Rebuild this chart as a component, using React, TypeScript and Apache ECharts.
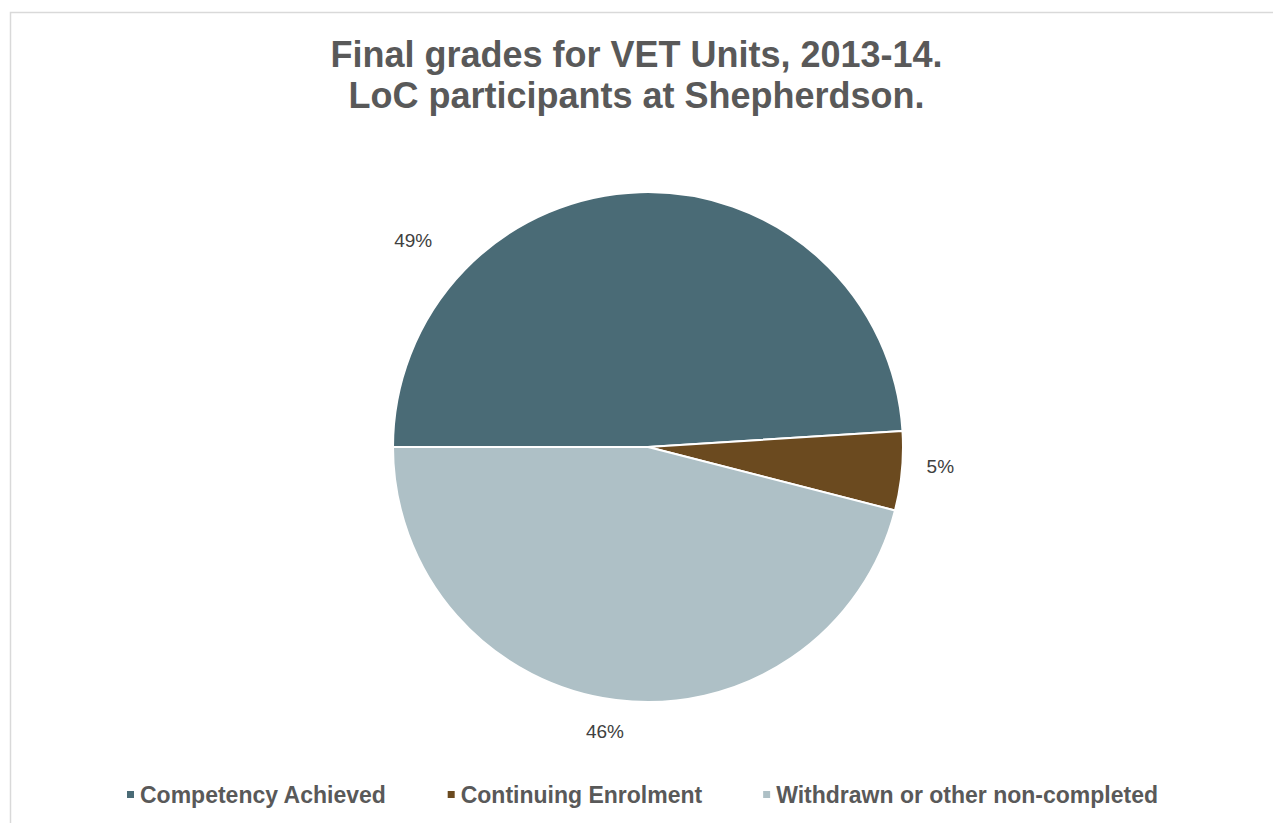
import React, { useEffect, useRef } from "react";
import * as echarts from "echarts";

// Final grade outcomes (percent of VET units)
const categories = ["Competency Achieved", "Continuing Enrolment", "Withdrawn or other non-completed"];
const shares = [49, 5, 46];
const colors = ["#4A6B76", "#6B4A1F", "#AEC0C6"];

const titleLines = ["Final grades for VET Units, 2013-14.", "LoC participants at Shepherdson."];

// Label placement around the pie, as [angle in degrees (counter-clockwise from east), distance from centre]
const labelPolar: [number, number][] = [
  [138.6, 313],
  [-3.9, 293],
  [-98.6, 288],
];

const CX = 648;
const CY = 447;
const R = 255;
const FONT = "Liberation Sans, Arial, sans-serif";

export default function App() {
  const ref = useRef<HTMLDivElement>(null);

  useEffect(() => {
    if (!ref.current) return;
    const chart = echarts.init(ref.current, null, { renderer: "svg" });
    chart.setOption({
      animation: false,
      backgroundColor: "#ffffff",
      textStyle: { fontFamily: FONT },
      title: {
        text: titleLines.join("\n"),
        left: "center",
        top: 29,
        textStyle: {
          fontFamily: FONT,
          fontSize: 36,
          fontWeight: "bold",
          color: "#595959",
          lineHeight: 41,
        },
      },
      graphic: [
        {
          type: "rect",
          shape: { x: 10.5, y: 12.5, width: 1400, height: 1000 },
          style: { fill: "none", stroke: "#d9d9d9", lineWidth: 1.5 },
          silent: true,
        },
      ],
      legend: {
        bottom: 12,
        left: 120,
        icon: "rect",
        itemWidth: 9,
        itemHeight: 9,
        itemGap: 59,
        data: categories,
        textStyle: {
          fontFamily: FONT,
          fontSize: 23,
          fontWeight: "bold",
          color: "#595959",
        },
      },
      series: [
        {
          type: "pie",
          center: [CX, CY],
          radius: R,
          startAngle: 180,
          clockwise: true,
          avoidLabelOverlap: false,
          itemStyle: { borderColor: "#ffffff", borderWidth: 2 },
          label: {
            show: true,
            position: "outside",
            formatter: (p: any) => `${p.value}%`,
            fontFamily: FONT,
            fontSize: 19,
            color: "#404040",
          },
          labelLine: { show: false },
          labelLayout: (params: any) => {
            const [deg, dist] = labelPolar[params.dataIndex];
            const a = (deg * Math.PI) / 180;
            return {
              x: CX + dist * Math.cos(a),
              y: CY - dist * Math.sin(a),
              align: "center",
              verticalAlign: "middle",
            };
          },
          emphasis: { disabled: true },
          data: categories.map((name, i) => ({
            name,
            value: shares[i],
            itemStyle: { color: colors[i] },
          })),
        },
      ],
    });
    return () => chart.dispose();
  }, []);

  return (
    <div
      ref={ref}
      style={{ position: "fixed", left: 0, top: 0, width: 1273, height: 823 }}
    />
  );
}
